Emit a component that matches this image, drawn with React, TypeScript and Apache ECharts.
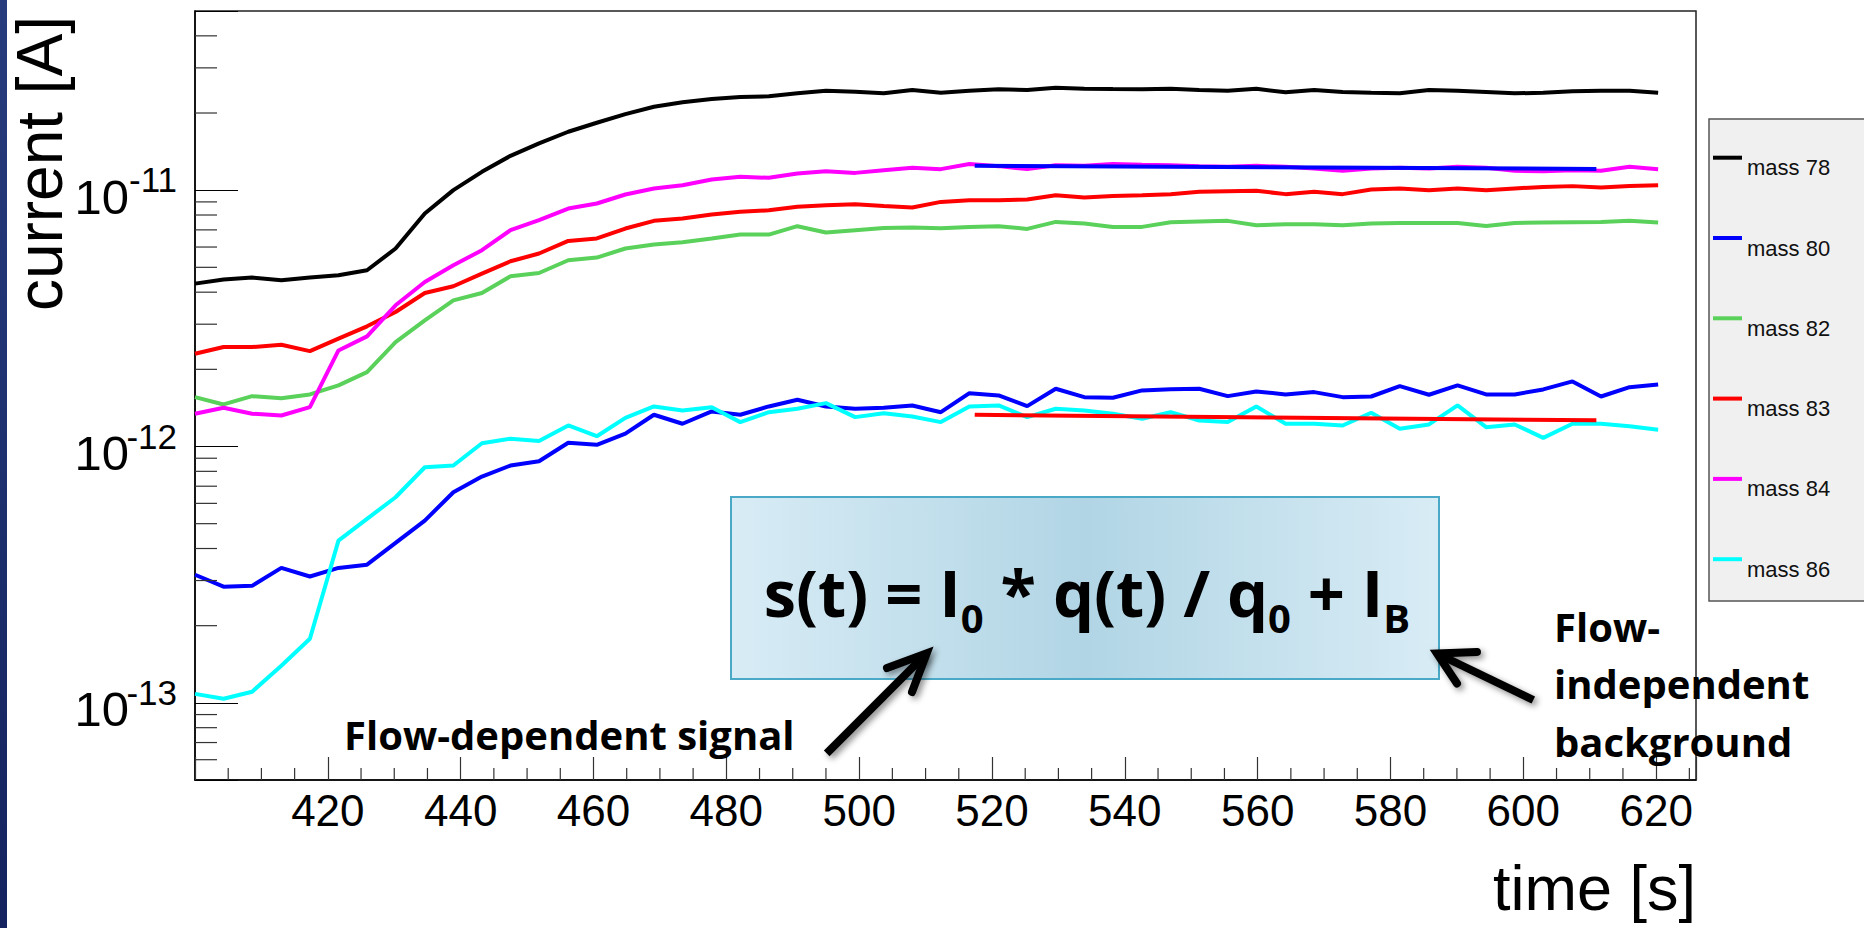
import React, { useEffect, useRef } from 'react';
import * as echarts from 'echarts';

// ---------- data (time in s, currents in A) ----------
const time = [
  400.0, 404.3, 408.6, 413.0, 417.3, 421.6, 425.9, 430.2, 434.6, 438.9,
  443.2, 447.5, 451.8, 456.2, 460.5, 464.8, 469.1, 473.4, 477.8, 482.1,
  486.4, 490.7, 495.0, 499.4, 503.7, 508.0, 512.3, 516.6, 521.0, 525.3,
  529.6, 533.9, 538.2, 542.6, 546.9, 551.2, 555.5, 559.8, 564.2, 568.5,
  572.8, 577.1, 581.4, 585.8, 590.1, 594.4, 598.7, 603.0, 607.4, 611.7,
  616.0, 620.3,
];

const mass78 = [
  4.32e-12, 4.48e-12, 4.56e-12, 4.45e-12, 4.56e-12, 4.66e-12, 4.87e-12, 5.92e-12, 8.11e-12, 10.0e-12,
  11.79e-12, 13.61e-12, 15.22e-12, 16.9e-12, 18.32e-12, 19.81e-12, 21.16e-12, 22.01e-12, 22.67e-12, 23.08e-12,
  23.23e-12, 23.86e-12, 24.43e-12, 24.2e-12, 23.86e-12, 24.59e-12, 24.0e-12, 24.43e-12, 24.74e-12, 24.59e-12,
  25.1e-12, 24.87e-12, 24.8e-12, 24.74e-12, 24.87e-12, 24.59e-12, 24.43e-12, 24.87e-12, 24.08e-12, 24.59e-12,
  24.15e-12, 24.0e-12, 23.86e-12, 24.59e-12, 24.43e-12, 24.15e-12, 23.86e-12, 24.0e-12, 24.29e-12, 24.43e-12,
  24.43e-12, 24.0e-12,
];

const mass80 = [
  0.316e-12, 0.284e-12, 0.286e-12, 0.336e-12, 0.311e-12, 0.336e-12, 0.346e-12, 0.421e-12, 0.514e-12, 0.663e-12,
  0.763e-12, 0.843e-12, 0.876e-12, 1.034e-12, 1.015e-12, 1.122e-12, 1.33e-12, 1.227e-12, 1.37e-12, 1.33e-12,
  1.433e-12, 1.522e-12, 1.433e-12, 1.404e-12, 1.416e-12, 1.446e-12, 1.361e-12, 1.615e-12, 1.582e-12, 1.437e-12,
  1.68e-12, 1.558e-12, 1.55e-12, 1.655e-12, 1.674e-12, 1.68e-12, 1.572e-12, 1.64e-12, 1.596e-12, 1.63e-12,
  1.558e-12, 1.567e-12, 1.72e-12, 1.592e-12, 1.731e-12, 1.596e-12, 1.596e-12, 1.67e-12, 1.794e-12, 1.567e-12,
  1.704e-12, 1.747e-12,
];

const mass82 = [
  1.558e-12, 1.459e-12, 1.572e-12, 1.544e-12, 1.596e-12, 1.731e-12, 1.951e-12, 2.555e-12, 3.106e-12, 3.718e-12,
  3.97e-12, 4.613e-12, 4.753e-12, 5.327e-12, 5.458e-12, 5.92e-12, 6.137e-12, 6.26e-12, 6.477e-12, 6.71e-12,
  6.71e-12, 7.235e-12, 6.834e-12, 6.98e-12, 7.12e-12, 7.15e-12, 7.11e-12, 7.19e-12, 7.235e-12, 7.06e-12,
  7.52e-12, 7.41e-12, 7.19e-12, 7.19e-12, 7.5e-12, 7.55e-12, 7.59e-12, 7.3e-12, 7.37e-12, 7.37e-12,
  7.3e-12, 7.41e-12, 7.45e-12, 7.45e-12, 7.45e-12, 7.25e-12, 7.45e-12, 7.48e-12, 7.5e-12, 7.52e-12,
  7.59e-12, 7.48e-12,
];

const mass83 = [
  2.3e-12, 2.443e-12, 2.443e-12, 2.495e-12, 2.356e-12, 2.634e-12, 2.944e-12, 3.346e-12, 3.97e-12, 4.217e-12,
  4.726e-12, 5.28e-12, 5.66e-12, 6.34e-12, 6.48e-12, 7.085e-12, 7.59e-12, 7.75e-12, 8.04e-12, 8.23e-12,
  8.35e-12, 8.61e-12, 8.74e-12, 8.82e-12, 8.68e-12, 8.56e-12, 9.0e-12, 9.14e-12, 9.14e-12, 9.2e-12,
  9.56e-12, 9.36e-12, 9.5e-12, 9.56e-12, 9.65e-12, 9.85e-12, 9.91e-12, 9.94e-12, 9.65e-12, 9.85e-12,
  9.65e-12, 10.06e-12, 10.15e-12, 10.0e-12, 10.15e-12, 10.0e-12, 10.15e-12, 10.3e-12, 10.37e-12, 10.24e-12,
  10.39e-12, 10.46e-12,
];

const mass84 = [
  1.342e-12, 1.416e-12, 1.342e-12, 1.321e-12, 1.424e-12, 2.37e-12, 2.69e-12, 3.555e-12, 4.385e-12, 5.09e-12,
  5.83e-12, 6.98e-12, 7.64e-12, 8.48e-12, 8.87e-12, 9.62e-12, 10.15e-12, 10.46e-12, 11.01e-12, 11.27e-12,
  11.17e-12, 11.62e-12, 11.86e-12, 11.68e-12, 11.97e-12, 12.22e-12, 12.08e-12, 12.64e-12, 12.41e-12, 12.08e-12,
  12.52e-12, 12.44e-12, 12.64e-12, 12.56e-12, 12.52e-12, 12.41e-12, 12.33e-12, 12.44e-12, 12.33e-12, 12.15e-12,
  11.9e-12, 12.15e-12, 12.22e-12, 12.15e-12, 12.33e-12, 12.22e-12, 11.9e-12, 11.86e-12, 11.97e-12, 11.9e-12,
  12.33e-12, 12.08e-12,
];

const mass86 = [
  0.1084e-12, 0.1037e-12, 0.1105e-12, 0.1396e-12, 0.1778e-12, 0.4295e-12, 0.522e-12, 0.634e-12, 0.83e-12, 0.843e-12,
  1.03e-12, 1.072e-12, 1.05e-12, 1.208e-12, 1.097e-12, 1.294e-12, 1.433e-12, 1.383e-12, 1.424e-12, 1.245e-12,
  1.361e-12, 1.404e-12, 1.476e-12, 1.302e-12, 1.349e-12, 1.31e-12, 1.245e-12, 1.433e-12, 1.446e-12, 1.302e-12,
  1.404e-12, 1.383e-12, 1.342e-12, 1.283e-12, 1.361e-12, 1.263e-12, 1.245e-12, 1.433e-12, 1.227e-12, 1.227e-12,
  1.208e-12, 1.354e-12, 1.173e-12, 1.219e-12, 1.446e-12, 1.19e-12, 1.219e-12, 1.081e-12, 1.227e-12, 1.227e-12,
  1.2e-12, 1.162e-12,
];

// fitted flat parts
const fitTime = [517.4, 611.0];
const fitMass84 = [1.245e-11, 1.21e-11];
const fitMass86 = [1.33e-12, 1.265e-12];

// axes
const X_MIN = 400;
const X_MAX = 626;
const Y_MIN = 5e-14;
const Y_MAX = 5e-11;
const xTickLabels = [420, 440, 460, 480, 500, 520, 540, 560, 580, 600, 620];
const xMinorTicks = [
  405, 410, 415, 425, 430, 435, 445, 450, 455, 465, 470, 475, 485, 490, 495, 505, 510, 515,
  525, 530, 535, 545, 550, 555, 565, 570, 575, 585, 590, 595, 605, 610, 615, 625,
];
const yMinorTicks = [
  6e-14, 7e-14, 8e-14, 9e-14,
  2e-13, 3e-13, 4e-13, 5e-13, 6e-13, 7e-13, 8e-13, 9e-13,
  2e-12, 3e-12, 4e-12, 5e-12, 6e-12, 7e-12, 8e-12, 9e-12,
  2e-11, 3e-11, 4e-11,
];

const PA = 1e-12; // plotted in pA internally, labelled in A

const seriesDefs = [
  { name: 'mass 78', values: mass78, color: '#000000' },
  { name: 'mass 80', values: mass80, color: '#0000ff' },
  { name: 'mass 82', values: mass82, color: '#5ad15a' },
  { name: 'mass 83', values: mass83, color: '#ff0000' },
  { name: 'mass 84', values: mass84, color: '#ff00ff' },
  { name: 'mass 86', values: mass86, color: '#00ffff' },
];

const FONT = 'Liberation Sans';
const BOLD = 'Open Sans';

function decadeExponent(v: number): number | null {
  const l = Math.log10(v);
  const e = Math.round(l);
  if (Math.abs(l - e) > 1e-6) return null;
  return e - 12; // axis runs in pA
}

function arrow(shaft: number[][], head: number[][]) {
  const shadow = {
    shadowBlur: 6,
    shadowColor: 'rgba(0,0,0,0.45)',
    shadowOffsetX: 3,
    shadowOffsetY: 3,
  };
  return [
    {
      type: 'polyline',
      z: 120,
      shape: { points: shaft },
      style: { stroke: '#000', lineWidth: 8, fill: null, lineCap: 'butt', ...shadow },
    },
    {
      type: 'polyline',
      z: 121,
      shape: { points: head },
      style: { stroke: '#000', lineWidth: 8, fill: null, lineJoin: 'miter', lineCap: 'round', ...shadow },
    },
  ];
}

function buildOption() {
  const lineSeries = seriesDefs.map((s) => ({
    name: s.name,
    type: 'line',
    data: time.map((t, i) => [t, s.values[i] / PA]),
    showSymbol: false,
    symbol: 'none',
    color: s.color,
    lineStyle: { color: s.color, width: 4 },
    itemStyle: { color: s.color },
    z: 3,
  }));

  const fitSeries = [
    { name: 'fit mass 84', values: fitMass84, color: '#0000ff' },
    { name: 'fit mass 86', values: fitMass86, color: '#ff0000' },
  ].map((s) => ({
    name: s.name,
    type: 'line',
    data: fitTime.map((t, i) => [t, s.values[i] / PA]),
    showSymbol: false,
    symbol: 'none',
    color: s.color,
    lineStyle: { color: s.color, width: 4 },
    z: 4,
  }));

  const xMinorSeries = {
    name: 'x minor ticks',
    type: 'custom',
    silent: true,
    clip: false,
    z: 5,
    data: xMinorTicks.map((v) => [v, Y_MIN / PA]),
    renderItem: (_p: any, api: any) => {
      const p = api.coord([api.value(0), api.value(1)]);
      return {
        type: 'line',
        shape: { x1: p[0], y1: p[1], x2: p[0], y2: p[1] - 12 },
        style: { stroke: '#333', lineWidth: 1.2 },
      };
    },
  };

  const yMinorSeries = {
    name: 'y minor ticks',
    type: 'custom',
    silent: true,
    clip: false,
    z: 5,
    data: yMinorTicks.map((v) => [X_MIN, v / PA]),
    renderItem: (_p: any, api: any) => {
      const p = api.coord([api.value(0), api.value(1)]);
      return {
        type: 'line',
        shape: { x1: p[0], y1: p[1], x2: p[0] + 22, y2: p[1] },
        style: { stroke: '#333', lineWidth: 1.2 },
      };
    },
  };

  const yBase = {
    type: 'log',
    logBase: 10,
    min: Y_MIN / PA,
    max: Y_MAX / PA,
    position: 'left',
    offset: 0,
    splitLine: { show: false },
    minorTick: { show: false },
  };

  return {
    animation: false,
    backgroundColor: '#ffffff',
    textStyle: { fontFamily: FONT },
    grid: {
      left: 195,
      top: 11,
      right: 168,
      bottom: 148,
      show: true,
      borderColor: '#222',
      borderWidth: 1.5,
      backgroundColor: 'transparent',
      containLabel: false,
      outerBoundsMode: 'none',
    },
    xAxis: {
      type: 'value',
      min: X_MIN,
      max: X_MAX,
      interval: 20,
      axisLine: { show: true, lineStyle: { color: '#000', width: 1.5 } },
      axisTick: { show: true, inside: true, length: 23, lineStyle: { color: '#333', width: 1.2 } },
      axisLabel: {
        show: true,
        margin: 8,
        fontSize: 44,
        fontFamily: FONT,
        color: '#000',
        formatter: (v: number) => {
          const r = Math.round(v);
          return Math.abs(v - r) < 1e-6 && xTickLabels.indexOf(r) >= 0 ? String(r) : '';
        },
      },
      splitLine: { show: false },
    },
    yAxis: [
      {
        ...yBase,
        axisLine: { show: true, lineStyle: { color: '#000', width: 1.5 } },
        axisTick: { show: true, inside: true, length: 43, lineStyle: { color: '#000', width: 1.2 } },
        axisLabel: {
          show: true,
          margin: 66,
          fontFamily: FONT,
          fontSize: 49,
          lineHeight: 13,
          verticalAlign: 'top',
          align: 'right',
          color: '#000',
          formatter: (v: number) => (decadeExponent(v) === null ? '' : '10'),
        },
      },
      {
        ...yBase,
        axisLine: { show: false },
        axisTick: { show: false },
        axisLabel: {
          show: true,
          margin: 18,
          fontFamily: FONT,
          fontSize: 35,
          lineHeight: 21,
          verticalAlign: 'bottom',
          align: 'right',
          color: '#000',
          formatter: (v: number) => {
            const e = decadeExponent(v);
            return e === null ? '' : String(e);
          },
        },
      },
    ],
    legend: {
      orient: 'vertical',
      left: 1709,
      top: 119,
      padding: [17.7, 160, 20.7, 4],
      itemGap: 38.3,
      itemWidth: 29,
      itemHeight: 4,
      icon: 'rect',
      selectedMode: false,
      backgroundColor: '#f0f0f0',
      borderColor: '#555',
      borderWidth: 1.5,
      borderRadius: 0,
      data: seriesDefs.map((s) => s.name),
      formatter: (name: string) => '\n' + name,
      textStyle: { fontFamily: FONT, fontSize: 22, lineHeight: 20, color: '#111' },
    },
    series: [...lineSeries, ...fitSeries, xMinorSeries, yMinorSeries],
    graphic: [
      {
        type: 'rect',
        z: 130,
        shape: { x: 0, y: 0, width: 7, height: 928 },
        style: {
          fill: {
            type: 'linear', x: 0, y: 0, x2: 0, y2: 1,
            colorStops: [
              { offset: 0, color: '#273c7d' },
              { offset: 1, color: '#14235f' },
            ],
          },
        },
      },
      {
        type: 'text',
        z: 110,
        x: 40,
        y: 163.5,
        rotation: Math.PI / 2,
        style: {
          text: 'current [A]',
          fontFamily: FONT,
          fontSize: 64,
          fill: '#000',
          align: 'center',
          verticalAlign: 'middle',
        },
      },
      {
        type: 'text',
        z: 110,
        x: 1696,
        y: 888,
        style: {
          text: 'time [s]',
          fontFamily: FONT,
          fontSize: 63,
          fill: '#000',
          align: 'right',
          verticalAlign: 'middle',
        },
      },
      {
        type: 'rect',
        z: 100,
        shape: { x: 731, y: 497, width: 708, height: 182 },
        style: {
          fill: {
            type: 'linear', x: 0, y: 0, x2: 1, y2: 0,
            colorStops: [
              { offset: 0, color: '#d8ecf5' },
              { offset: 0.5, color: '#b1d5e5' },
              { offset: 1, color: '#d8ecf5' },
            ],
          },
          stroke: '#4aa9c6',
          lineWidth: 2,
        },
      },
      {
        type: 'text',
        z: 105,
        x: 1087,
        y: 592,
        style: {
          text: '{m|s(t) = I}{s|0}{m| * q(t) / q}{s|0}{m| + I}{s|B}',
          align: 'center',
          verticalAlign: 'middle',
          fill: '#000',
          rich: {
            m: { fontFamily: BOLD, fontWeight: 'bold', fontSize: 65, lineHeight: 90, verticalAlign: 'middle', fill: '#000' },
            s: { fontFamily: BOLD, fontWeight: 'bold', fontSize: 40, lineHeight: 40, verticalAlign: 'bottom', fill: '#000' },
          },
        },
      },
      {
        type: 'text',
        z: 105,
        x: 344,
        y: 734,
        style: {
          text: 'Flow-dependent signal',
          fontFamily: BOLD,
          fontWeight: 'bold',
          fontSize: 40,
          fill: '#000',
          align: 'left',
          verticalAlign: 'middle',
        },
      },
      {
        type: 'text',
        z: 105,
        x: 1554,
        y: 597.4,
        style: {
          text: 'Flow-\nindependent\nbackground',
          fontFamily: BOLD,
          fontWeight: 'bold',
          fontSize: 40,
          lineHeight: 57.5,
          fill: '#000',
          align: 'left',
          verticalAlign: 'top',
        },
      },
      ...arrow(
        [[826.7, 753.3], [925, 655]],
        [[887, 668], [926.7, 653.3], [912, 692]]
      ),
      ...arrow(
        [[1533.3, 700], [1440, 655]],
        [[1477, 652], [1437, 653.5], [1457, 683.5]]
      ),
    ],
  };
}

export default function App() {
  const ref = useRef<HTMLDivElement>(null);
  useEffect(() => {
    if (!ref.current) return;
    const chart = echarts.init(ref.current, undefined, { renderer: 'svg' });
    chart.setOption(buildOption() as any);
    return () => {
      chart.dispose();
    };
  }, []);
  return (
    <div
      ref={ref}
      style={{ position: 'fixed', left: 0, top: 0, width: 1864, height: 928, background: '#ffffff' }}
    />
  );
}
